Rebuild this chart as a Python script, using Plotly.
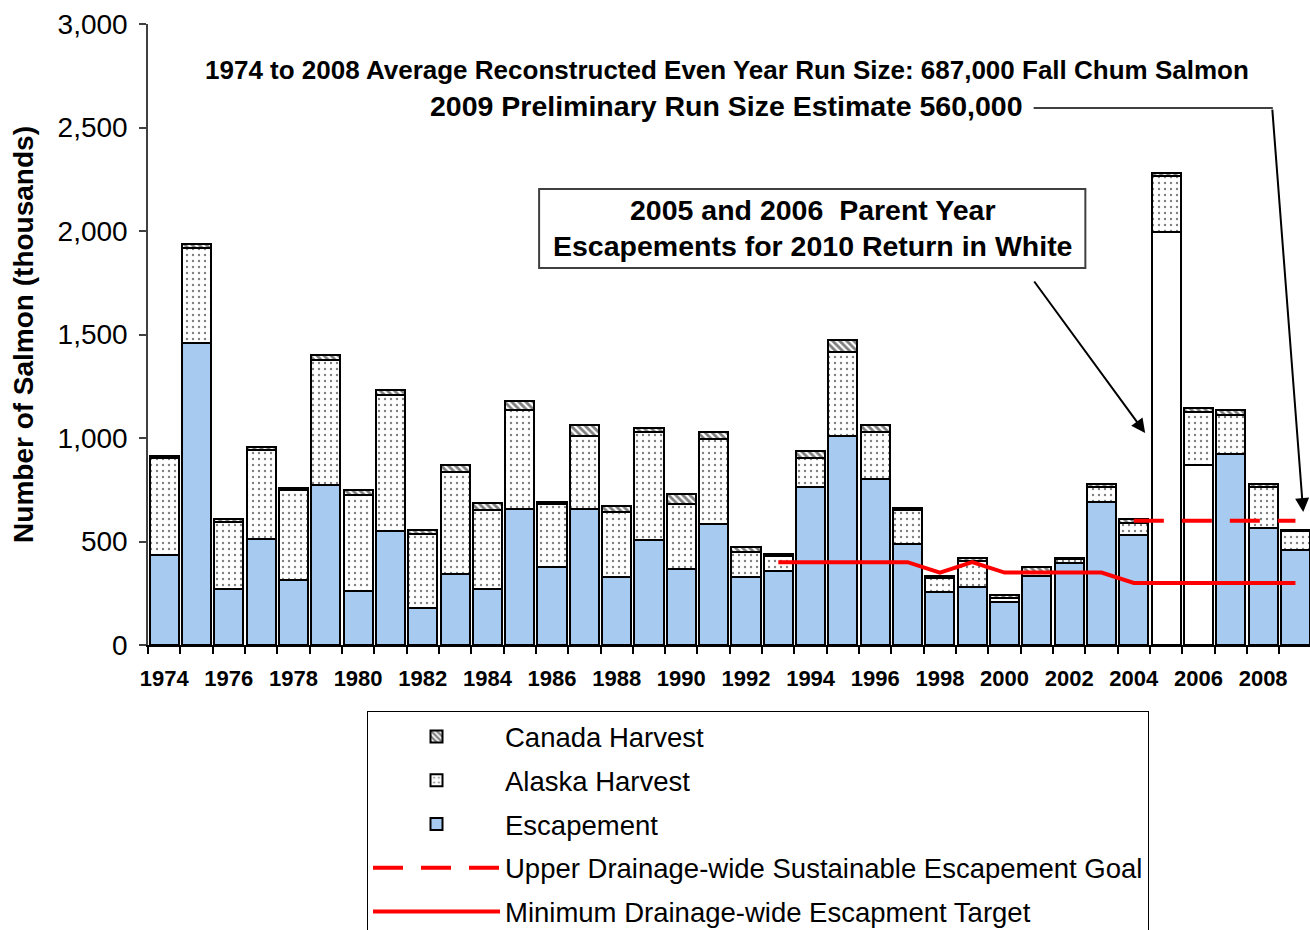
import plotly.graph_objects as go

# Yukon River fall chum salmon run reconstruction (thousands of fish)
years = list(range(1974, 2010))
escapement = [435, 1460, 270, 512, 315, 775, 260, 550, 178, 345, 270, 657,
              375, 655, 327, 505, 365, 585, 327, 356, 762, 1012, 800, 490,
              257, 282, 207, 332, 397, 690, 533, 1997, 872, 922, 567, 460]
alaska_harvest = [468, 459, 325, 430, 435, 600, 467, 660, 360, 493, 384, 477,
                  305, 354, 314, 523, 318, 412, 123, 72, 142, 403, 228, 160,
                  68, 124, 20, 16, 17, 71, 58, 267, 256, 191, 197, 91]
canada_harvest = [10, 18, 15, 15, 10, 25, 20, 22, 18, 33, 30, 45,
                  10, 52, 30, 20, 45, 32, 25, 10, 33, 58, 33, 10,
                  8, 16, 15, 30, 8, 18, 18, 18, 18, 22, 12, 5]
parent_years = [2005, 2006]  # escapement drawn in white

min_target_years = list(range(1993, 2010))
min_target = [400, 400, 400, 400, 400, 350, 400, 350, 350, 350, 350,
              300, 300, 300, 300, 300, 300]
upper_goal_years = list(range(2004, 2010))
upper_goal = [600, 600, 600, 600, 600, 600]

FONT = "Liberation Sans, Arial, sans-serif"
BLUE = "#A6CAF0"

esc_colors = ["white" if y in parent_years else BLUE for y in years]

fig = go.Figure()

fig.add_trace(go.Bar(
    x=years, y=escapement, name="Escapement",
    marker=dict(color=esc_colors, line=dict(color="black", width=2)),
    legendrank=3, legendgroup="c",
))
fig.add_trace(go.Bar(
    x=years, y=alaska_harvest, name="Alaska Harvest",
    marker=dict(color="white", line=dict(color="black", width=2),
                pattern=dict(shape=".", fgcolor="black", bgcolor="white",
                             size=6, solidity=0.12)),
    legendrank=2, legendgroup="b",
))
fig.add_trace(go.Bar(
    x=years, y=canada_harvest, name="Canada Harvest",
    marker=dict(color="white", line=dict(color="black", width=2),
                pattern=dict(shape="\\", fgcolor="black", bgcolor="white",
                             size=5, solidity=0.55)),
    legendrank=1, legendgroup="a",
))
fig.add_trace(go.Scatter(
    x=upper_goal_years, y=upper_goal, mode="lines",
    name="Upper Drainage-wide Sustainable Escapement Goal",
    line=dict(color="red", width=4, dash="30px,18px"),
    legendrank=4, legendgroup="d",
))
fig.add_trace(go.Scatter(
    x=min_target_years, y=min_target, mode="lines",
    name="Minimum Drainage-wide Escapment Target",
    line=dict(color="red", width=4),
    legendrank=5, legendgroup="e",
))

# text blocks and arrows
fig.add_annotation(
    x=1991.4, y=2778, xref="x", yref="y", showarrow=False,
    text="<b>1974 to 2008 Average Reconstructed Even Year Run Size: 687,000 Fall Chum Salmon</b>",
    font=dict(family=FONT, size=26, color="black"),
)
fig.add_annotation(
    x=1991.4, y=2604, xref="x", yref="y", showarrow=False,
    text="<b>2009 Preliminary Run Size Estimate 560,000</b>",
    font=dict(family=FONT, size=28.5, color="black"),
)
fig.add_shape(type="line", x0=2000.9, x1=2008.3, y0=2594, y1=2594,
              line=dict(color="black", width=1.5))
fig.add_annotation(
    x=2009.24, y=642, ax=-31, ay=-404, axref="pixel", ayref="pixel",
    text="", showarrow=True, arrowhead=2, arrowsize=1.4, arrowwidth=2,
    arrowcolor="black",
)

fig.add_shape(type="rect", x0=1985.6, x1=2002.5, y0=1821, y1=2203,
              line=dict(color="#404040", width=2), fillcolor="white")
fig.add_annotation(
    x=1994.05, y=2101, showarrow=False,
    text="<b>2005 and 2006  Parent Year</b>",
    font=dict(family=FONT, size=28.5, color="black"),
)
fig.add_annotation(
    x=1994.05, y=1928, showarrow=False,
    text="<b>Escapements for 2010 Return in White</b>",
    font=dict(family=FONT, size=28.5, color="black"),
)
fig.add_annotation(
    x=2004.35, y=1024, ax=-112, ay=-153, axref="pixel", ayref="pixel",
    text="", showarrow=True, arrowhead=2, arrowsize=1.4, arrowwidth=2,
    arrowcolor="black",
)

fig.update_layout(
    width=1310, height=930,
    margin=dict(l=148, r=0, t=24, b=285),
    barmode="stack", bargap=0.1,
    plot_bgcolor="white", paper_bgcolor="white",
    font=dict(family=FONT, color="black"),
    showlegend=True,
    legend=dict(
        xref="paper", yref="container",
        x=(367 - 148) / 1162, y=1 - 711 / 930, xanchor="left", yanchor="top",
        traceorder="grouped", tracegroupgap=5,
        font=dict(family=FONT, size=27.5, color="black"),
        bordercolor="black", borderwidth=1, bgcolor="white",
        itemwidth=127,
    ),
)
fig.update_xaxes(
    range=[1973.5, 2009.45],
    tickvals=list(range(1974, 2010, 2)),
    ticktext=[str(y) for y in range(1974, 2010, 2)],
    tickfont=dict(family=FONT, size=22, color="black", weight="bold"),
    ticks="", ticklabelstandoff=13,
    showline=True, linecolor="black", linewidth=1.5,
    showgrid=False, zeroline=False,
    minor=dict(tick0=1973.5, dtick=1, ticks="outside", ticklen=7,
               tickcolor="black", tickwidth=1.5, showgrid=False),
)
fig.update_yaxes(
    range=[0, 3000], dtick=500, tickformat=",d",
    tickfont=dict(family=FONT, size=28, color="black"),
    ticks="outside", ticklen=7, tickcolor="#404040", tickwidth=1.5,
    ticklabelstandoff=6,
    showline=True, linecolor="#404040", linewidth=1.5,
    showgrid=False, zeroline=False,
    title=dict(text="<b>Number of Salmon (thousands)</b>",
               font=dict(family=FONT, size=28, color="black"), standoff=16),
)

fig.write_html("out.html", config={"displayModeBar": False},
               post_script="document.body.style.margin='0';")
